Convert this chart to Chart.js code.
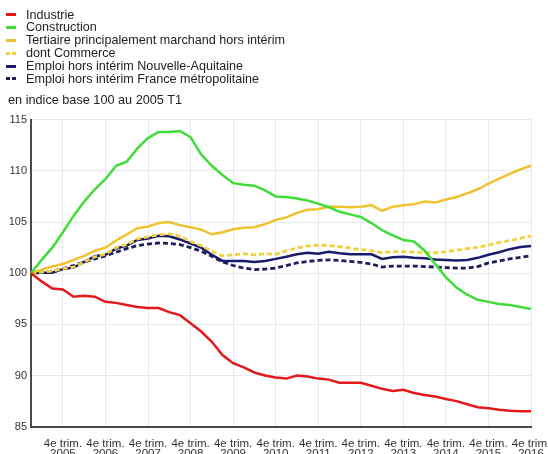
<!DOCTYPE html>
<html><head><meta charset="utf-8">
<script src="https://cdn.jsdelivr.net/npm/chart.js@4.4.1/dist/chart.umd.min.js"></script>
<style>
html,body{margin:0;padding:0;background:#fff;}
#wrap{position:relative;width:548px;height:454px;overflow:hidden;background:#fff;}
#c{position:absolute;left:0;top:0;}
#legend{position:absolute;left:6px;top:8.6px;font:12.6px "Liberation Sans",Arial,sans-serif;color:#222;z-index:2;}
.row{height:12.8px;line-height:12.8px;display:flex;align-items:center;white-space:nowrap;}
.sym{width:10px;height:3px;margin-right:10px;flex:none;}
#sub{position:absolute;left:8px;top:93px;line-height:14px;font:12.7px "Liberation Sans",Arial,sans-serif;color:#222;z-index:2;}
</style></head>
<body>
<div id="wrap">
<canvas id="c" width="548" height="454"></canvas>
<div id="legend"></div>
<div id="sub">en indice base 100 au 2005 T1</div>
</div>
<script>
const categories = [
 '2005 T1','2005 T2','2005 T3','2005 T4','2006 T1','2006 T2','2006 T3','2006 T4',
 '2007 T1','2007 T2','2007 T3','2007 T4','2008 T1','2008 T2','2008 T3','2008 T4',
 '2009 T1','2009 T2','2009 T3','2009 T4','2010 T1','2010 T2','2010 T3','2010 T4',
 '2011 T1','2011 T2','2011 T3','2011 T4','2012 T1','2012 T2','2012 T3','2012 T4',
 '2013 T1','2013 T2','2013 T3','2013 T4','2014 T1','2014 T2','2014 T3','2014 T4',
 '2015 T1','2015 T2','2015 T3','2015 T4','2016 T1','2016 T2','2016 T3','2016 T4'];
const xTickLabels = [
 ['4e trim.','2005'],['4e trim.','2006'],['4e trim.','2007'],['4e trim.','2008'],
 ['4e trim.','2009'],['4e trim.','2010'],['4e trim.','2011'],['4e trim.','2012'],
 ['4e trim.','2013'],['4e trim.','2014'],['4e trim.','2015'],['4e trim.','2016']];
const yTicks = [85, 90, 95, 100, 105, 110, 115];

const industrie = [100,99.2,98.5,98.4,97.7,97.8,97.7,97.2,97.1,96.9,
 96.7,96.6,96.6,96.2,95.9,95.1,94.3,93.3,92.0,91.2,
 90.8,90.3,90.0,89.8,89.7,90.0,89.9,89.7,89.6,89.3,
 89.3,89.3,89.0,88.7,88.5,88.6,88.3,88.1,87.95,87.7,
 87.5,87.2,86.9,86.8,86.65,86.55,86.5,86.5];
const construction = [100,101.3,102.5,104.0,105.6,107.0,108.2,109.2,110.5,110.9,
 112.2,113.2,113.8,113.8,113.9,113.3,111.6,110.5,109.6,108.8,
 108.65,108.55,108.1,107.5,107.45,107.3,107.1,106.8,106.45,106.0,
 105.75,105.5,104.9,104.2,103.7,103.25,103.1,102.2,100.9,99.6,
 98.6,97.9,97.4,97.2,97.0,96.9,96.7,96.5];
const tertiaire = [100,100.35,100.65,100.9,101.3,101.7,102.2,102.5,103.2,103.8,
 104.4,104.55,104.9,105.0,104.7,104.5,104.25,103.8,104.0,104.3,
 104.45,104.5,104.8,105.2,105.45,105.9,106.2,106.25,106.5,106.5,
 106.45,106.5,106.65,106.1,106.5,106.65,106.75,107.0,106.9,107.2,
 107.45,107.8,108.2,108.75,109.25,109.7,110.15,110.5];
const commerce = [100,100.1,100.2,100.45,100.6,101.1,101.6,101.85,102.5,102.8,
 103.35,103.55,103.75,103.85,103.6,103.1,102.7,102.15,101.7,101.8,
 101.9,101.8,101.9,101.85,102.2,102.45,102.65,102.75,102.7,102.6,
 102.45,102.3,102.2,102.0,102.1,102.1,102.05,102.0,102.0,102.1,
 102.25,102.4,102.55,102.75,103.0,103.2,103.4,103.65];
const aquitaine = [100,100.05,100.05,100.4,100.55,101.1,101.65,101.8,102.4,102.7,
 103.25,103.4,103.65,103.6,103.3,102.9,102.5,101.8,101.2,101.2,
 101.2,101.1,101.2,101.4,101.6,101.85,102.0,101.9,102.1,101.95,
 101.85,101.85,101.85,101.4,101.55,101.6,101.5,101.45,101.35,101.3,
 101.25,101.3,101.5,101.8,102.05,102.35,102.55,102.65];
const france = [100,100.1,100.2,100.45,100.75,101.1,101.4,101.7,102.05,102.4,
 102.7,102.85,102.95,102.9,102.8,102.5,102.15,101.65,101.1,100.75,
 100.5,100.35,100.4,100.5,100.75,101.0,101.15,101.25,101.3,101.25,
 101.15,101.05,100.9,100.6,100.7,100.7,100.7,100.65,100.6,100.55,
 100.5,100.5,100.65,101.0,101.2,101.4,101.55,101.7];

const seriesNames = ['Industrie','Construction','Tertiaire principalement marchand hors intérim','dont Commerce','Emploi hors intérim Nouvelle-Aquitaine','Emploi hors intérim France métropolitaine'];
const seriesData = [industrie, construction, tertiaire, commerce, aquitaine, france];
const seriesColors = ['#e3191c','#3fdc3a','#f2c12e','#f3d03c','#1b1b6e','#1e1e5c'];
const seriesDashed = [false,false,false,true,false,true];

const datasets = seriesNames.map((n,i)=>({
  label:n, data:seriesData[i], borderColor:seriesColors[i], backgroundColor:seriesColors[i],
  borderWidth: seriesDashed[i] ? 2.8 : 2.5, pointRadius:0, tension:0, fill:false,
  borderDash: seriesDashed[i] ? [5,3] : []
}));

// HTML legend
const leg = document.getElementById('legend');
seriesNames.forEach((n,i)=>{
  const r = document.createElement('div'); r.className='row';
  const s = document.createElement('span'); s.className='sym';
  s.style.background = seriesDashed[i]
    ? `repeating-linear-gradient(90deg, ${seriesColors[i]} 0 4px, transparent 4px 6px)`
    : seriesColors[i];
  const t = document.createElement('span'); t.textContent = n;
  r.appendChild(s); r.appendChild(t); leg.appendChild(r);
});

const gridColor = '#e4e9f0';
new Chart(document.getElementById('c'), {
  type:'line',
  data:{labels:categories, datasets},
  options:{
    responsive:false, animation:false,
    layout:{padding:{top:119.7, right:17, left:0, bottom:0}},
    plugins:{legend:{display:false}, tooltip:{enabled:false}},
    scales:{
      x:{
        type:'category', offset:false,
        grid:{color:gridColor, lineWidth:1, drawTicks:false},
        border:{display:true, color:'#4a4a4a', width:2},
        ticks:{autoSkip:false, maxRotation:0, minRotation:0, padding:11.5, color:'#333',
          font:{family:'"Liberation Sans", Arial, sans-serif', size:11.5, lineHeight:0.9},
          callback:(v,i)=> (i%4===3 ? xTickLabels[(i-3)/4] : null)},
        afterFit:(s)=>{ s.height = 27.3; s.paddingLeft = 0; s.paddingRight = 0; }
      },
      y:{
        min:85, max:115,
        afterBuildTicks:(s)=>{ s.ticks = yTicks.map(v=>({value:v})); },
        grid:{color:gridColor, lineWidth:1, drawTicks:false},
        border:{display:true, color:'#4a4a4a', width:2},
        ticks:{padding:4, color:'#333', font:{family:'"Liberation Sans", Arial, sans-serif', size:11}},
        afterFit:(s)=>{ s.width = 31; }
      }
    }
  }
});
</script>
</body></html>
